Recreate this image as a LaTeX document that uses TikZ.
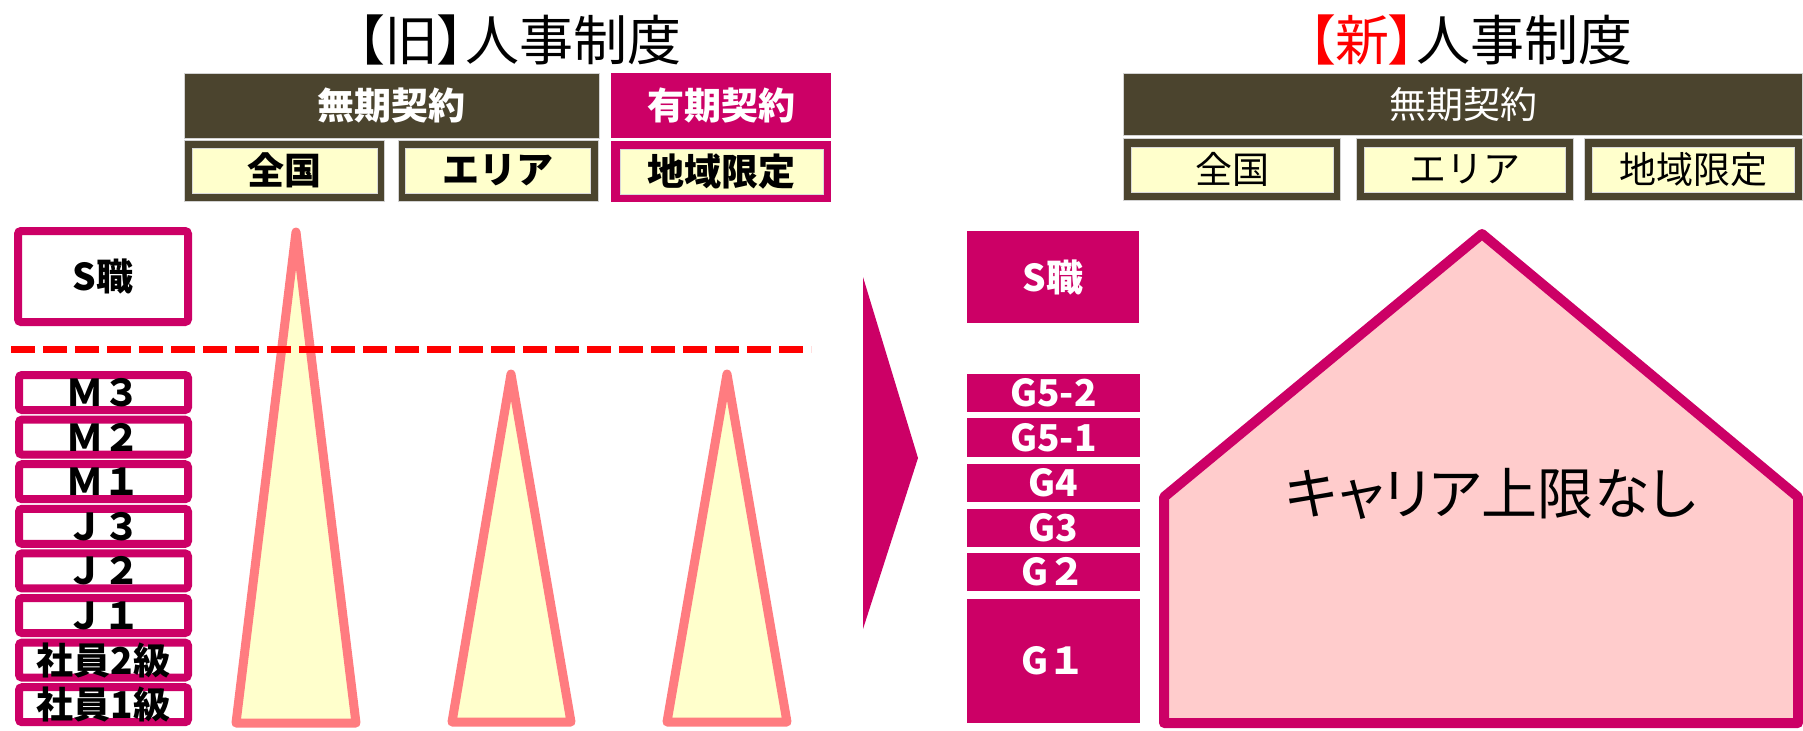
\documentclass[tikz,border=0pt]{standalone}
\usepackage{fontspec}
\setmainfont{Noto Sans CJK JP}
\newfontfamily\jpprop[RawFeature=+palt]{Noto Sans CJK JP}
\definecolor{olivebox}{HTML}{4B442E}
\definecolor{plum}{HTML}{CC0066}
\definecolor{paleyel}{HTML}{FFFFCC}
\definecolor{salmon}{HTML}{FF7C80}
\definecolor{rosefill}{HTML}{FFCCCC}
\begin{document}
\begin{tikzpicture}[x=0.5pt, y=-0.5pt,
    title/.style={font=\jpprop\fontsize{27}{30}\selectfont},
    label/.style={font=\fontsize{18.5}{20}\selectfont},
    boldlabel/.style={font=\fontsize{18.5}{20}\selectfont\bfseries},
    grade/.style={draw=plum, line width=4pt, rounded corners=1.5pt, fill=white},
    spike/.style={draw=salmon, fill=paleyel, line width=4.5pt, line join=round},
    darkbox/.style={fill=olivebox, draw=gray!35, line width=0.5pt},
    yelbox/.style={fill=paleyel, draw=gray!30, line width=0.5pt}]
    \useasboundingbox (0,0) rectangle (1803,730);

    % old system
    \node [title] (oldtitle) at (519,40) {【旧】人事制度};

    \draw [darkbox] (184,73) rectangle (599,138);
    \node [boldlabel, text=white] (oldperm) at (391.5,105.5) {無期契約};
    \fill [plum] (611,73) rectangle (831,138);
    \node [boldlabel, text=white] (oldfixed) at (721,105.5) {有期契約};

    \draw [darkbox] (184,140) rectangle (384,201);
    \draw [yelbox] (192,148) rectangle (377,193);
    \node [boldlabel] (oldnation) at (284.5,170.5) {全国};
    \draw [darkbox] (398,140) rectangle (598,201);
    \draw [yelbox] (405,148) rectangle (590,193);
    \node [boldlabel] (oldarea) at (497.5,170.5) {エリア};
    \fill [plum] (611,141) rectangle (831,202);
    \draw [yelbox] (620,149) rectangle (823,194);
    \node [boldlabel] (oldlocal) at (721.5,171.5) {地域限定};

    \draw [grade] (18,231) rectangle (188,322);
    \node [boldlabel] (oldS) at (103,276.5) {S職};

    \draw [spike] (296,232) -- (356,723) -- (236,723) -- cycle;
    \draw [spike] (511,374) -- (571,722) -- (452,722) -- cycle;
    \draw [spike] (727,374) -- (787,722) -- (667,722) -- cycle;

    \draw [red, line width=3.5pt, dash pattern=on 12pt off 4pt] (11,349) -- (811,349);

    \draw [grade] (19,375) rectangle (188,410);
    \node [boldlabel] (oldM3) at (103.5,392.5) {Ｍ３};
    \draw [grade] (19,419.6) rectangle (188,454.6);
    \node [boldlabel] (oldM2) at (103.5,437.1) {Ｍ２};
    \draw [grade] (19,464.2) rectangle (188,499.2);
    \node [boldlabel] (oldM1) at (103.5,481.7) {Ｍ１};
    \draw [grade] (19,508.8) rectangle (188,543.8);
    \node [boldlabel] (oldJ3) at (103.5,526.3) {Ｊ３};
    \draw [grade] (19,553.4) rectangle (188,588.4);
    \node [boldlabel] (oldJ2) at (103.5,570.9) {Ｊ２};
    \draw [grade] (19,598) rectangle (188,633);
    \node [boldlabel] (oldJ1) at (103.5,615.5) {Ｊ１};
    \draw [grade] (19,642.6) rectangle (188,677.6);
    \node [boldlabel] (oldstaff2) at (103.5,660.1) {社員2級};
    \draw [grade] (19,687.2) rectangle (188,722.2);
    \node [boldlabel] (oldstaff1) at (103.5,704.7) {社員1級};

    % arrow
    \fill [plum] (863,277) -- (918,458) -- (863,629) -- cycle;

    % new system
    \node [title] (newtitle) at (1470,40) {\textcolor{red}{【新】}人事制度};

    \draw [darkbox] (1123.5,73) rectangle (1802.5,135);
    \node [label, text=white] (newperm) at (1463,104) {無期契約};
    \draw [darkbox] (1123.5,138) rectangle (1340,200);
    \draw [yelbox] (1131,147) rectangle (1333,192);
    \node [label] (newnation) at (1232,169.5) {全国};
    \draw [darkbox] (1356,138) rectangle (1573,200);
    \draw [yelbox] (1364,147) rectangle (1565,192);
    \node [label] (newarea) at (1464.5,169.5) {エリア};
    \draw [darkbox] (1584,138) rectangle (1802.5,200);
    \draw [yelbox] (1592,147) rectangle (1794,192);
    \node [label] (newlocal) at (1693,169.5) {地域限定};

    \fill [plum] (967,231) rectangle (1139,323);
    \node [boldlabel, text=white] (newS) at (1053,277) {S職};
    \fill [plum] (967,374) rectangle (1140,412);
    \node [boldlabel, text=white] (G52) at (1053.5,393) {G5-2};
    \fill [plum] (967,418) rectangle (1140,457);
    \node [boldlabel, text=white] (G51) at (1053.5,437.5) {G5-1};
    \fill [plum] (967,464) rectangle (1140,502);
    \node [boldlabel, text=white] (G4) at (1053.5,483) {G4};
    \fill [plum] (967,509) rectangle (1140,547);
    \node [boldlabel, text=white] (G3) at (1053.5,528) {G3};
    \fill [plum] (967,553) rectangle (1140,591);
    \node [boldlabel, text=white] (G2) at (1053.5,572) {G２};
    \fill [plum] (967,599) rectangle (1140,723);
    \node [boldlabel, text=white] (G1) at (1053.5,661) {G１};

    \draw [draw=plum, fill=rosefill, line width=5pt, line join=round]
        (1164,497) -- (1482,234) -- (1798,497) -- (1798,723) -- (1164,723) -- cycle;
    \node [font=\jpprop\fontsize{28}{30}\selectfont] (nolimit) at (1491,494) {キャリア上限なし};
\end{tikzpicture}
\end{document}
